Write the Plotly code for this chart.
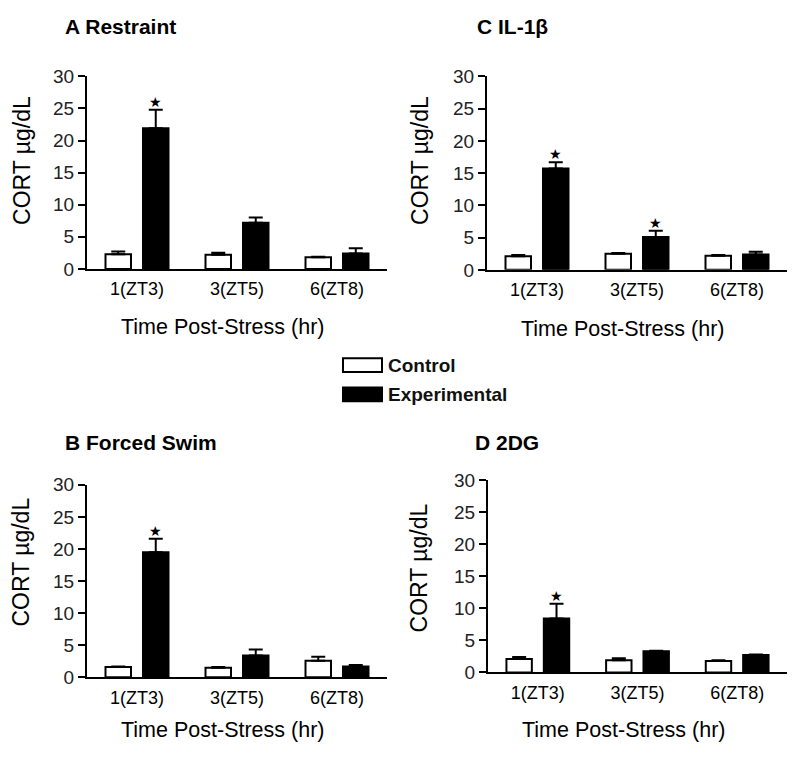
import plotly.graph_objects as go

W, H = 797, 762
OFF = 8  # page body margin in the viewer

categories = ["1(ZT3)", "3(ZT5)", "6(ZT8)"]

titles = ["A Restraint", "C IL-1β", "B Forced Swim", "D 2DG"]

ctrl_A = [2.3, 2.2, 1.8]
ctrl_A_err = [0.4, 0.3, 0.1]
exp_A = [21.9, 7.2, 2.4]
exp_A_err = [2.9, 0.8, 0.8]
star_A = [True, False, False]

ctrl_C = [2.1, 2.5, 2.2]
ctrl_C_err = [0.2, 0.1, 0.1]
exp_C = [15.7, 5.1, 2.4]
exp_C_err = [1.0, 0.95, 0.4]
star_C = [True, True, False]

ctrl_B = [1.6, 1.5, 2.6]
ctrl_B_err = [0.1, 0.1, 0.6]
exp_B = [19.5, 3.4, 1.7]
exp_B_err = [2.1, 0.95, 0.2]
star_B = [True, False, False]

ctrl_D = [2.1, 1.9, 1.8]
ctrl_D_err = [0.3, 0.3, 0.1]
exp_D = [8.4, 3.3, 2.7]
exp_D_err = [2.3, 0.1, 0.1]
star_D = [True, False, False]

y_ticks = [0, 5, 10, 15, 20, 25, 30]
y_title = "CORT µg/dL"
x_title = "Time Post-Stress (hr)"
legend_labels = ["Control", "Experimental"]
star_text = "★"

FONT = "Arial, Liberation Sans, sans-serif"
BARGAP = 0.25
BARGROUPGAP = 0.32


def px(x):
    return (x - OFF) / W


def py(y):
    return 1 - (y - OFF) / H


panels = [
    dict(ctrl=ctrl_A, ce=ctrl_A_err, exp=exp_A, ee=exp_A_err, star=star_A, title=titles[0],
         x0=87, x1=387, yt=68, yb=266, tx=63, ty=17, ytx=22, yty=155, xtx=222, xty=326),
    dict(ctrl=ctrl_C, ce=ctrl_C_err, exp=exp_C, ee=exp_C_err, star=star_C, title=titles[1],
         x0=487, x1=787, yt=68, yb=267, tx=475, ty=17, ytx=420, yty=155, xtx=622, xty=328),
    dict(ctrl=ctrl_B, ce=ctrl_B_err, exp=exp_B, ee=exp_B_err, star=star_B, title=titles[2],
         x0=87, x1=387, yt=488, yb=686, tx=63, ty=445, ytx=21, yty=568, xtx=222, xty=740),
    dict(ctrl=ctrl_D, ce=ctrl_D_err, exp=exp_D, ee=exp_D_err, star=star_D, title=titles[3],
         x0=488, x1=787, yt=483, yb=681, tx=473, ty=445, ytx=419, yty=574, xtx=623, xty=740),
]

fig = go.Figure()
annotations = []
shapes = []
idx = list(range(len(categories)))
star_off = (1 - BARGAP) / 4

for k, p in enumerate(panels):
    n = "" if k == 0 else str(k + 1)
    xa, ya = "x" + n, "y" + n
    fig.add_trace(go.Bar(
        x=idx, y=p["ctrl"], xaxis=xa, yaxis=ya, name=legend_labels[0], showlegend=False,
        marker=dict(color="white", line=dict(color="black", width=2)),
        error_y=dict(type="data", array=p["ce"], arrayminus=[0] * 3, symmetric=False,
                     color="black", thickness=2, width=7)))
    fig.add_trace(go.Bar(
        x=idx, y=p["exp"], xaxis=xa, yaxis=ya, name=legend_labels[1], showlegend=False,
        marker=dict(color="black", line=dict(color="black", width=2)),
        error_y=dict(type="data", array=p["ee"], arrayminus=[0] * 3, symmetric=False,
                     color="black", thickness=2, width=7)))
    fig.layout["xaxis" + n] = dict(
        domain=[px(p["x0"]), px(p["x1"])], range=[-0.5, 2.5], anchor=ya,
        tickvals=idx, ticktext=categories, ticks="", showline=True, linecolor="black",
        linewidth=2, showgrid=False, zeroline=False, fixedrange=True,
        tickfont=dict(family=FONT, size=18, color="black"), ticklabelstandoff=3)
    fig.layout["yaxis" + n] = dict(
        domain=[py(p["yb"]), py(p["yt"])], range=[0, 30], anchor=xa,
        tickvals=y_ticks, ticks="outside", ticklen=7, tickwidth=2, tickcolor="black",
        showline=True, linecolor="black", linewidth=2, showgrid=False, zeroline=False,
        tickfont=dict(family=FONT, size=19, color="#222"), fixedrange=True)
    for i in idx:
        if p["star"][i]:
            annotations.append(dict(
                x=i + star_off, y=p["exp"][i] + p["ee"][i], xref=xa, yref=ya,
                text=star_text, showarrow=False, yanchor="middle", yshift=8,
                font=dict(family="DejaVu Sans", size=14, color="black")))
    annotations.append(dict(x=px(p["tx"]), y=py(p["ty"]), xref="paper", yref="paper",
                            text="<b>" + p["title"] + "</b>", showarrow=False,
                            xanchor="left", yanchor="middle",
                            font=dict(family=FONT, size=21, color="black")))
    annotations.append(dict(x=px(p["ytx"]), y=py(p["yty"]), xref="paper", yref="paper",
                            text=y_title, showarrow=False, textangle=-90,
                            xanchor="center", yanchor="middle",
                            font=dict(family=FONT, size=23, color="black")))
    annotations.append(dict(x=px(p["xtx"]), y=py(p["xty"]), xref="paper", yref="paper",
                            text=x_title, showarrow=False,
                            xanchor="center", yanchor="middle",
                            font=dict(family=FONT, size=21.5, color="black")))

# legend drawn manually
leg_fill = ["white", "black"]
for j, lab in enumerate(legend_labels):
    yc = 365 + 30 * j
    shapes.append(dict(type="rect", xref="paper", yref="paper",
                       x0=px(343), x1=px(382), y0=py(yc + 7), y1=py(yc - 7),
                       line=dict(color="black", width=2), fillcolor=leg_fill[j]))
    annotations.append(dict(x=px(386), y=py(yc), xref="paper", yref="paper",
                            text="<b>" + lab + "</b>", showarrow=False,
                            xanchor="left", yanchor="middle",
                            font=dict(family=FONT, size=19, color="#111")))

fig.update_layout(
    width=W, height=H, margin=dict(l=0, r=0, t=0, b=0),
    paper_bgcolor="white", plot_bgcolor="white",
    barmode="group", bargap=BARGAP, bargroupgap=BARGROUPGAP,
    annotations=annotations, shapes=shapes, showlegend=False,
)

fig.write_html("out.html")
